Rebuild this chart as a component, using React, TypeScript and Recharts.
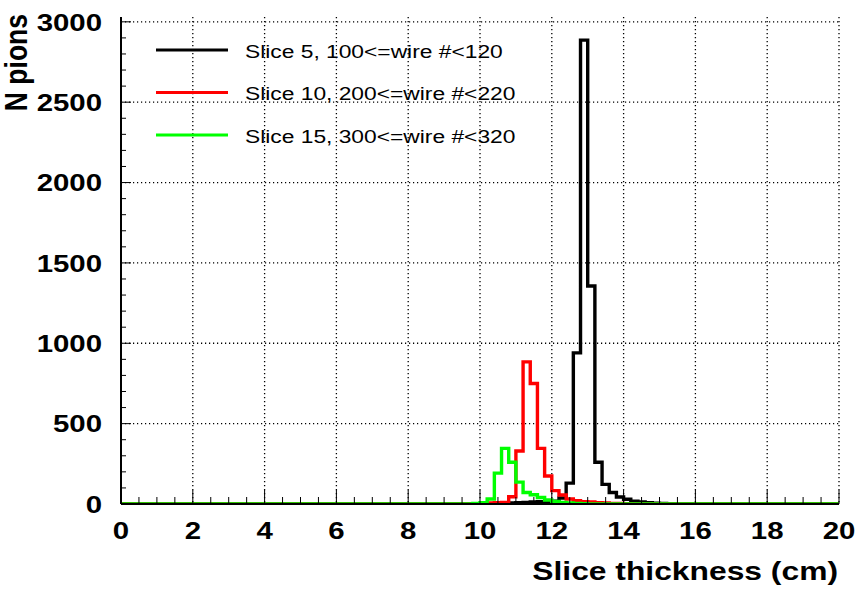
import React from 'react';
import { LineChart, Line, XAxis, YAxis, CartesianGrid, Legend } from 'recharts';

// 100 bins of 0.2 cm between 0 and 20 cm
const xMin = 0;
const xMax = 20;
const binWidth = 0.2;
const nBins = 100;

// per-slice counts, listed from the first filled bin onwards
const slice5Start = 10.8;
const slice5Counts = [6, 8, 10, 12, 14, 16, 18, 37, 130, 940, 2886, 1356, 260, 122, 72, 44, 30, 18, 12, 8, 5, 3, 2, 1];

const slice10Start = 10.2;
const slice10Counts = [6, 8, 9, 45, 330, 884, 750, 346, 174, 83, 56, 31, 20, 15, 12, 8, 6, 4, 3, 2, 1];

const slice15Start = 9.8;
const slice15Counts = [3, 8, 31, 192, 346, 260, 136, 72, 58, 40, 25, 16, 10, 6, 4, 2, 1];

const seriesKeys = ['s5', 's10', 's15'];
const seriesNames = ['Slice 5, 100<=wire #<120', 'Slice 10, 200<=wire #<220', 'Slice 15, 300<=wire #<320'];
const seriesColors = ['#000000', '#ff0000', '#00ff00'];

const xMajorTicks = [0, 2, 4, 6, 8, 10, 12, 14, 16, 18, 20];
const yMajorTicks = [0, 500, 1000, 1500, 2000, 2500, 3000];
const yMax = 3030;

const xTicks = Array.from({ length: 41 }, (_, i) => i * 0.5);
const yTicks = Array.from({ length: 31 }, (_, i) => i * 100);

const countAt = (start: number, counts: number[], bin: number) => {
  const idx = bin - Math.round(start / binWidth);
  return idx >= 0 && idx < counts.length ? counts[idx] : 0;
};

// one row per bin edge, drawn as steps
const rows = Array.from({ length: nBins + 1 }, (_, bin) => ({
  x: Math.round(bin * binWidth * 10) / 10,
  s5: countAt(slice5Start, slice5Counts, bin),
  s10: countAt(slice10Start, slice10Counts, bin),
  s15: countAt(slice15Start, slice15Counts, bin),
}));

const W = 858;
const H = 592;
const plotLeft = 121;
const plotTop = 17;
const plotRight = 839;
const plotBottom = 504;

const FONT = '"Liberation Sans", Arial, Helvetica, sans-serif';
const STRETCH = 1.2;
const X_LABEL_GAP = 18;
const Y_LABEL_GAP = 19;

const isMajorX = (v: number) => v % 2 === 0;
const isMajorY = (v: number) => v % 500 === 0;

const BottomTick = (props: any) => {
  const { x, y, payload } = props;
  const v = payload.value;
  const axisY = y - X_LABEL_GAP;
  const major = isMajorX(v);
  return (
    <g>
      <line x1={x} x2={x} y1={axisY} y2={axisY - (major ? 14 : 7)} stroke="#000" strokeWidth={1} />
      {major && (
        <g transform={`translate(${x},${y}) scale(${STRETCH},1)`}>
          <text textAnchor="middle" dy="0.71em" fontFamily={FONT} fontWeight="bold" fontSize={24.5} fill="#000">
            {v}
          </text>
        </g>
      )}
    </g>
  );
};

const TopTick = (props: any) => {
  const { x, y, payload } = props;
  const major = isMajorX(payload.value);
  return <line x1={x} x2={x} y1={y} y2={y + (major ? 14 : 7)} stroke="#000" strokeWidth={1} />;
};

const LeftTick = (props: any) => {
  const { x, y, payload } = props;
  const v = payload.value;
  const axisX = x + Y_LABEL_GAP;
  const major = isMajorY(v);
  return (
    <g>
      <line x1={axisX} x2={axisX + (major ? 10 : 5)} y1={y} y2={y} stroke="#000" strokeWidth={1} />
      {major && (
        <g transform={`translate(${x},${y}) scale(${STRETCH},1)`}>
          <text textAnchor="end" dy="0.355em" fontFamily={FONT} fontWeight="bold" fontSize={24.5} fill="#000">
            {v}
          </text>
        </g>
      )}
    </g>
  );
};

const RightTick = (props: any) => {
  const { x, y, payload } = props;
  const major = isMajorY(payload.value);
  return <line x1={x} x2={x - (major ? 10 : 5)} y1={y} y2={y} stroke="#000" strokeWidth={1} />;
};

const XTitle = () => (
  <g transform={`translate(${plotRight - 1},${plotBottom + 76}) scale(${STRETCH},1)`}>
    <text textAnchor="end" fontFamily={FONT} fontWeight="bold" fontSize={26.5} fill="#000">
      Slice thickness (cm)
    </text>
  </g>
);

const YTitle = () => (
  <g transform={`translate(27,14) scale(${STRETCH},1) rotate(-90)`}>
    <text textAnchor="end" fontFamily={FONT} fontWeight="bold" fontSize={26.5} fill="#000">
      N pions
    </text>
  </g>
);

const HistLegend = () => (
  <svg width={W} height={160} style={{ display: 'block' }}>
    {seriesNames.map((name, i) => {
      const cy = 50 + i * 42.5;
      return (
        <g key={name}>
          <line x1={156} x2={228} y1={cy} y2={cy} stroke={seriesColors[i]} strokeWidth={3} />
          <g transform={`translate(245,${cy + 7.5}) scale(${STRETCH},1)`}>
            <text fontFamily={FONT} fontSize={19} fill="#000">
              {name}
            </text>
          </g>
        </g>
      );
    })}
  </svg>
);

const frame = { stroke: '#000', strokeWidth: 2 };

export default function App() {
  return (
    <div style={{ position: 'absolute', left: 0, top: 0, width: W, height: H, background: '#fff' }}>
      <LineChart
        width={W}
        height={H}
        data={rows}
        margin={{ top: plotTop, right: W - plotRight, bottom: 0, left: 0 }}
      >
        <CartesianGrid
          xAxisId="x"
          yAxisId="y"
          stroke="#000"
          strokeWidth={1.3}
          strokeDasharray="1.2 2.8"
          verticalValues={xMajorTicks}
          horizontalValues={yMajorTicks}
        />
        <XAxis
          xAxisId="x"
          dataKey="x"
          type="number"
          domain={[xMin, xMax]}
          allowDataOverflow
          ticks={xTicks}
          interval={0}
          height={H - plotBottom}
          tickSize={0}
          tickMargin={X_LABEL_GAP}
          tickLine={false}
          axisLine={frame}
          tick={BottomTick}
          label={<XTitle />}
        />
        <XAxis
          xAxisId="t"
          dataKey="x"
          orientation="top"
          type="number"
          domain={[xMin, xMax]}
          allowDataOverflow
          ticks={xTicks}
          interval={0}
          height={0}
          tickSize={0}
          tickMargin={0}
          tickLine={false}
          axisLine={frame}
          tick={TopTick}
        />
        <YAxis
          yAxisId="y"
          type="number"
          domain={[0, yMax]}
          allowDataOverflow
          ticks={yTicks}
          interval={0}
          width={plotLeft}
          tickSize={0}
          tickMargin={Y_LABEL_GAP}
          tickLine={false}
          axisLine={frame}
          tick={LeftTick}
          label={<YTitle />}
        />
        <YAxis
          yAxisId="r"
          orientation="right"
          type="number"
          domain={[0, yMax]}
          allowDataOverflow
          ticks={yTicks}
          interval={0}
          width={0}
          tickSize={0}
          tickMargin={0}
          tickLine={false}
          axisLine={frame}
          tick={RightTick}
        />
        {seriesKeys.map((key, i) => (
          <Line
            key={key}
            xAxisId="x"
            yAxisId="y"
            type="stepAfter"
            dataKey={key}
            name={seriesNames[i]}
            stroke={seriesColors[i]}
            strokeWidth={3.4}
            dot={false}
            activeDot={false}
            isAnimationActive={false}
          />
        ))}
        <Legend
          layout="horizontal"
          verticalAlign="middle"
          align="center"
          wrapperStyle={{ left: 0, top: 0, width: W, height: 160 }}
          content={<HistLegend />}
        />
      </LineChart>
    </div>
  );
}
